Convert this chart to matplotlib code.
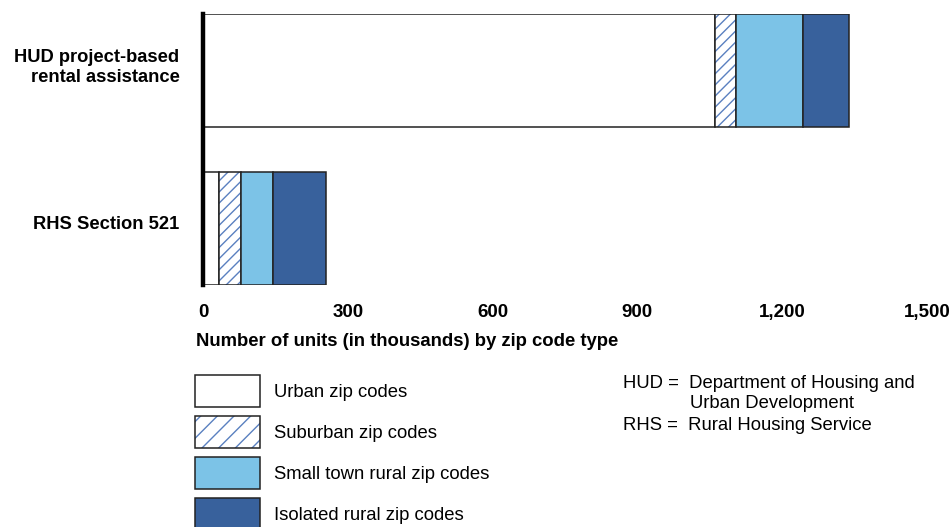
import matplotlib
matplotlib.use("Agg")
import matplotlib.pyplot as plt
from matplotlib.patches import Patch
from matplotlib.legend_handler import HandlerTuple
import matplotlib.transforms as mtransforms

# ---- data (thousands of units) ----
programs = ["RHS Section 521", "HUD project-based\nrental assistance"]
urban = [33, 1061]
suburban = [46, 43]
small_town = [66, 140]
isolated = [109, 95]
series_labels = ["Urban zip codes", "Suburban zip codes",
                 "Small town rural zip codes", "Isolated rural zip codes"]
xticks = [0, 300, 600, 900, 1200, 1500]
xtick_labels = ["0", "300", "600", "900", "1,200", "1,500"]
xlabel = "Number of units (in thousands) by zip code type"
notes = [("HUD =  Department of Housing and", "Urban Development"),
         ("RHS =  Rural Housing Service", None)]

# ---- style ----
plt.rcParams['font.family'] = ['Liberation Sans', 'DejaVu Sans']
plt.rcParams['hatch.linewidth'] = 1.0
LIGHT = "#7cc3e7"
DARK = "#38619c"
HATCH = "#5a80c0"
EDGE = "#222222"

fig = plt.figure(figsize=(9.51, 5.27), dpi=100)
ax = fig.add_axes([203/951, 1-285/527, 724/951, 271/527])

pos = [0, 1]
h = 0.715
lefts = [0, 0]
ax.barh(pos, urban, height=h, left=lefts, color="white", edgecolor=EDGE, linewidth=1.1)
lefts = [a for a in urban]
ax.barh(pos, suburban, height=h, left=lefts, color="white", edgecolor=HATCH,
        hatch="///", linewidth=0)
ax.barh(pos, suburban, height=h, left=lefts, fill=False, edgecolor=EDGE, linewidth=1.1)
lefts = [a + b for a, b in zip(urban, suburban)]
ax.barh(pos, small_town, height=h, left=lefts, color=LIGHT, edgecolor=EDGE, linewidth=1.1)
lefts = [a + b + c for a, b, c in zip(urban, suburban, small_town)]
ax.barh(pos, isolated, height=h, left=lefts, color=DARK, edgecolor=EDGE, linewidth=1.1)

ax.set_xlim(0, 1500)
ax.set_ylim(-h/2, 1 + h/2)
for s in ["top", "right", "bottom"]:
    ax.spines[s].set_visible(False)
ax.spines["left"].set_linewidth(3.2)
ax.spines["left"].set_color("black")
ax.spines["left"].set_zorder(5)

ax.set_xticks(xticks)
ax.set_xticklabels(xtick_labels, fontweight="bold", fontsize=13.5, va="baseline")
ax.tick_params(axis="x", length=0, pad=23)
ax.set_yticks(pos)
ax.set_yticklabels(programs, fontweight="bold", fontsize=13.2, ha="right",
                   multialignment="right", linespacing=1.2)
ax.tick_params(axis="y", length=0, pad=17)
off = mtransforms.ScaledTranslation(0, 6.5/100, fig.dpi_scale_trans)
for lab in ax.get_yticklabels():
    lab.set_transform(lab.get_transform() + off)

ax.set_xlabel(xlabel, fontweight="bold", fontsize=13.3, ha="left", va="center")
ax.xaxis.set_label_coords(-7/724, -(341-285)/271)

# ---- legend ----
handles = [
    Patch(facecolor="white", edgecolor=EDGE, linewidth=1.1),
    (Patch(facecolor="white", edgecolor=HATCH, hatch="//", linewidth=0),
     Patch(fill=False, edgecolor=EDGE, linewidth=1.1)),
    Patch(facecolor=LIGHT, edgecolor=EDGE, linewidth=1.1),
    Patch(facecolor=DARK, edgecolor=EDGE, linewidth=1.1),
]
leg = fig.legend(handles, series_labels, loc="upper left",
                 bbox_to_anchor=(195/951, 1-375/527), frameon=False,
                 fontsize=13.3, handlelength=3.52, handleheight=2.28,
                 labelspacing=0.49, handletextpad=0.75, borderpad=0,
                 borderaxespad=0,
                 handler_map={tuple: HandlerTuple(ndivide=1, pad=0)})

# ---- notes ----
fig.text(623/951, 1-383/527, notes[0][0], fontsize=13.3, va="center", ha="left")
fig.text(690/951, 1-404/527, notes[0][1], fontsize=13.3, va="center", ha="left")
fig.text(623/951, 1-425/527, notes[1][0], fontsize=13.3, va="center", ha="left")

fig.savefig("out.png", dpi=100)
